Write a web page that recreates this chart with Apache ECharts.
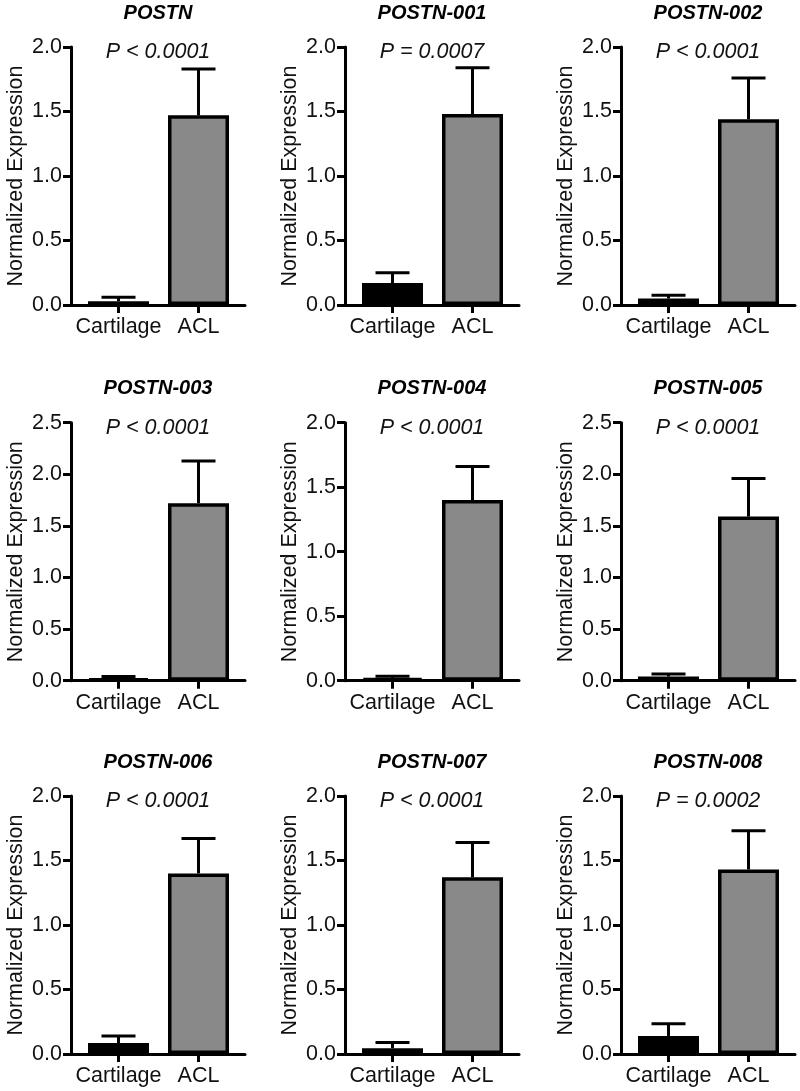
<!DOCTYPE html>
<html>
<head>
<meta charset="utf-8">
<script src="https://cdn.jsdelivr.net/npm/echarts@6/dist/echarts.min.js"></script>
<style>html,body{margin:0;padding:0;background:#fff}#c{width:800px;height:1091px}</style>
</head>
<body>
<div id="c"></div>
<script>
const genes = ['POSTN','POSTN-001','POSTN-002','POSTN-003','POSTN-004','POSTN-005','POSTN-006','POSTN-007','POSTN-008'];
const pLabels = ['P < 0.0001','P = 0.0007','P < 0.0001','P < 0.0001','P < 0.0001','P < 0.0001','P < 0.0001','P < 0.0001','P = 0.0002'];
const categories = ['Cartilage','ACL'];
const cartilageMean = [0.03, 0.17, 0.05, 0.02, 0.02, 0.04, 0.085, 0.045, 0.14];
const cartilageSem  = [0.03, 0.08, 0.025, 0.02, 0.015, 0.025, 0.055, 0.045, 0.095];
const aclMean = [1.47, 1.48, 1.44, 1.72, 1.40, 1.59, 1.40, 1.37, 1.43];
const aclSem  = [0.36, 0.36, 0.32, 0.41, 0.26, 0.37, 0.27, 0.27, 0.30];
const yMax = [2, 2, 2, 2.5, 2, 2.5, 2, 2, 2];

const FONT = "'Liberation Sans', Arial, sans-serif";
const colX = [71, 345, 621];
const rowY0 = [305, 680.7, 1054];
const PLOT_H = 258, PLOT_W = 174;
const PX_PER_UNIT = 80, OFFSET = 47.5;
const FS = 21.5;

const grids = [], xAxes = [], yAxes = [], series = [], graphics = [];
for (let i = 0; i < 9; i++) {
  const r = Math.floor(i / 3), c = i % 3;
  const X0 = colX[c], Y0 = rowY0[r];
  const top = Y0 - PLOT_H;
  grids.push({ left: X0, top: top, width: PLOT_W, height: PLOT_H, containLabel: false });
  const xmin = -OFFSET / PX_PER_UNIT;
  xAxes.push({
    gridIndex: i, type: 'value', min: xmin, max: xmin + PLOT_W / PX_PER_UNIT,
    axisLine: { show: true, onZero: false, lineStyle: { color: '#000', width: 3 } },
    axisTick: { show: true, customValues: [0, 1], length: 8, lineStyle: { color: '#000', width: 3 } },
    axisLabel: { show: true, customValues: [0, 1], formatter: v => categories[Math.round(v)], color: '#111', fontSize: FS, fontFamily: FONT, margin: 11 },
    splitLine: { show: false }
  });
  yAxes.push({
    gridIndex: i, type: 'value', min: 0, max: yMax[i], interval: 0.5,
    name: 'Normalized Expression', nameLocation: 'middle', nameGap: 44,
    nameTextStyle: { color: '#111', fontSize: FS, fontFamily: FONT },
    axisLine: { show: true, onZero: false, lineStyle: { color: '#000', width: 3 } },
    axisTick: { show: true, length: 8, lineStyle: { color: '#000', width: 3 } },
    axisLabel: { formatter: v => v.toFixed(1), color: '#111', fontSize: FS, fontFamily: FONT, margin: 9 },
    splitLine: { show: false }
  });
  series.push({
    type: 'custom', xAxisIndex: i, yAxisIndex: i, z: 1,
    data: [[0, cartilageMean[i], cartilageSem[i]], [1, aclMean[i], aclSem[i]]],
    renderItem: function (params, api) {
      const x = api.value(0), m = api.value(1), e = api.value(2);
      const p0 = api.coord([x, m]), p1 = api.coord([x, m + e]);
      const hw = 17;
      return { type: 'group', children: [
        { type: 'line', shape: { x1: p0[0], y1: p0[1], x2: p1[0], y2: p1[1] }, style: { stroke: '#000', lineWidth: 3 } },
        { type: 'line', shape: { x1: p1[0] - hw, y1: p1[1], x2: p1[0] + hw, y2: p1[1] }, style: { stroke: '#000', lineWidth: 3 } }
      ] };
    }
  });
  series.push({
    type: 'bar', xAxisIndex: i, yAxisIndex: i, z: 2, barWidth: 61,
    data: [
      { value: [0, cartilageMean[i]], itemStyle: { color: '#000000', borderColor: '#000', borderWidth: 3.5 } },
      { value: [1, aclMean[i]], itemStyle: { color: '#898989', borderColor: '#000', borderWidth: 3.5 } }
    ]
  });
  graphics.push({ type: 'text', x: X0 + 87, y: Y0 - 292, style: { text: genes[i], fill: '#000', font: "italic bold 20px " + FONT, textAlign: 'center', textVerticalAlign: 'middle' } });
  graphics.push({ type: 'text', x: X0 + 87, y: top + 5, style: { text: pLabels[i], fill: '#111', font: "italic " + FS + "px " + FONT, textAlign: 'center', textVerticalAlign: 'middle' } });
}

const chart = echarts.init(document.getElementById('c'), null, { renderer: 'canvas' });
chart.setOption({
  backgroundColor: '#fff', animation: false,
  grid: grids, xAxis: xAxes, yAxis: yAxes, series: series, graphic: graphics
});
</script>
</body>
</html>
